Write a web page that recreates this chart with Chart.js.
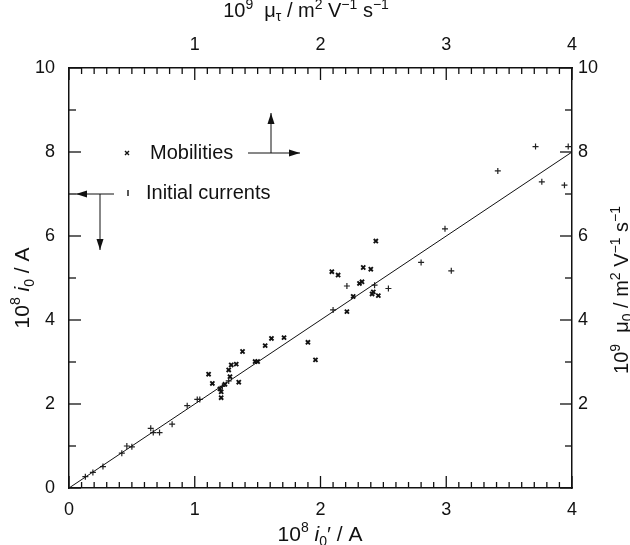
<!DOCTYPE html>
<html>
<head>
<meta charset="utf-8">
<script src="https://cdn.jsdelivr.net/npm/chart.js@4.4.1/dist/chart.umd.min.js"></script>
<style>
  html, body { margin: 0; padding: 0; background: #fff; }
  #wrap { width: 630px; height: 545px; }
</style>
</head>
<body>
<div id="wrap"><canvas id="c" width="630" height="545"></canvas></div>
<script>
// --- DATA ---
// initial currents: 10^8 i0' (bottom) vs 10^8 i0 (left)
const currentsX = [0.13, 0.19, 0.27, 0.42, 0.46, 0.50, 0.65, 0.67, 0.72, 0.82, 0.94, 1.02, 1.04,
  1.22, 1.27, 2.10, 2.21, 2.43, 2.54, 2.80, 2.99, 3.04, 3.41, 3.71, 3.76, 3.94, 3.97];
const currentsY = [0.27, 0.37, 0.51, 0.83, 1.00, 0.98, 1.42, 1.32, 1.32, 1.52, 1.96, 2.11, 2.11,
  2.42, 2.55, 4.24, 4.81, 4.83, 4.75, 5.37, 6.17, 5.17, 7.55, 8.13, 7.29, 7.21, 8.13];
// mobilities: 10^9 mu_tau (top) vs 10^9 mu_0 (right)
const mobilityX = [1.11, 1.14, 1.20, 1.21, 1.21, 1.24, 1.27, 1.28, 1.29, 1.33, 1.35, 1.38, 1.48, 1.50,
  1.56, 1.61, 1.71, 1.90, 1.96, 2.09, 2.14, 2.21, 2.26, 2.31, 2.33, 2.34, 2.40, 2.41, 2.42, 2.44, 2.46];
const mobilityY = [2.71, 2.49, 2.36, 2.29, 2.15, 2.47, 2.81, 2.65, 2.93, 2.95, 2.52, 3.25, 3.01, 3.01,
  3.39, 3.56, 3.58, 3.47, 3.05, 5.15, 5.07, 4.20, 4.56, 4.87, 4.91, 5.25, 5.21, 4.62, 4.67, 5.88, 4.58];
// fitted line
const fitX = [0, 4];
const fitY = [0, 8];

// tick labels
const bottomLabels = [0, 1, 2, 3, 4];
const topLabels = [1, 2, 3, 4];
const leftLabels = [0, 2, 4, 6, 8, 10];
const rightLabels = [2, 4, 6, 8, 10];

const FONT = '"Liberation Sans", Arial, Helvetica, sans-serif';
const INK = '#111';

function pts(xs, ys) {
  return xs.map((x, i) => ({ x: x, y: ys[i] }));
}

function labelIn(list) {
  return (v) => {
    const r = Math.round(v);
    return Math.abs(v - r) < 1e-6 && list.includes(r) ? String(r) : '';
  };
}

// rich text: parts = [[text, kind]] kind: n | i | sup | sub
function drawRich(ctx, parts, cx, cy, size, rot) {
  const fontFor = (k) => {
    const s = (k === 'sup' || k === 'sub') ? Math.round(size * 0.68) : size;
    return (k === 'i' ? 'italic ' : '') + s + 'px ' + FONT;
  };
  let total = 0;
  parts.forEach(([t, k]) => { ctx.font = fontFor(k); total += ctx.measureText(t).width; });
  ctx.save();
  ctx.translate(cx, cy);
  if (rot) ctx.rotate(rot);
  ctx.fillStyle = INK;
  ctx.textBaseline = 'alphabetic';
  ctx.textAlign = 'left';
  let x = -total / 2;
  parts.forEach(([t, k]) => {
    ctx.font = fontFor(k);
    let dy = 0;
    if (k === 'sup') dy = -size * 0.42;
    if (k === 'sub') dy = size * 0.22;
    ctx.fillText(t, x, dy);
    x += ctx.measureText(t).width;
  });
  ctx.restore();
}

function arrow(ctx, x1, y1, x2, y2) {
  ctx.beginPath();
  ctx.moveTo(x1, y1);
  ctx.lineTo(x2, y2);
  ctx.stroke();
  const a = Math.atan2(y2 - y1, x2 - x1);
  const L = 11, W = 3.5;
  ctx.beginPath();
  ctx.moveTo(x2, y2);
  ctx.lineTo(x2 - L * Math.cos(a) + W * Math.sin(a), y2 - L * Math.sin(a) - W * Math.cos(a));
  ctx.lineTo(x2 - L * Math.cos(a) - W * Math.sin(a), y2 - L * Math.sin(a) + W * Math.cos(a));
  ctx.closePath();
  ctx.fill();
}

// inward tick marks on all four sides
const inwardTicks = {
  id: 'inwardTicks',
  afterDraw(chart) {
    const ctx = chart.ctx;
    const a = chart.chartArea;
    ctx.save();
    ctx.strokeStyle = INK;
    ctx.lineWidth = 1.3;
    const s = chart.scales;
    const isInt = (v) => Math.abs(v - Math.round(v)) < 1e-6;
    s.x.ticks.forEach((t) => {
      const p = s.x.getPixelForValue(t.value);
      const len = isInt(t.value) ? 12 : 6;
      ctx.beginPath(); ctx.moveTo(p, a.bottom); ctx.lineTo(p, a.bottom - len); ctx.stroke();
    });
    s.x2.ticks.forEach((t) => {
      const p = s.x2.getPixelForValue(t.value);
      const len = isInt(t.value) ? 12 : 6;
      ctx.beginPath(); ctx.moveTo(p, a.top); ctx.lineTo(p, a.top + len); ctx.stroke();
    });
    s.y.ticks.forEach((t) => {
      const p = s.y.getPixelForValue(t.value);
      const len = Math.round(t.value) % 2 === 0 ? 12 : 7;
      ctx.beginPath(); ctx.moveTo(a.left, p); ctx.lineTo(a.left + len, p); ctx.stroke();
    });
    s.y2.ticks.forEach((t) => {
      const p = s.y2.getPixelForValue(t.value);
      const len = Math.round(t.value) % 2 === 0 ? 12 : 7;
      ctx.beginPath(); ctx.moveTo(a.right, p); ctx.lineTo(a.right - len, p); ctx.stroke();
    });
    ctx.restore();
  }
};

// legend, arrows and axis titles
const annotations = {
  id: 'annotations',
  afterDraw(chart) {
    const ctx = chart.ctx;
    ctx.save();
    ctx.strokeStyle = INK;
    ctx.fillStyle = INK;

    // legend markers
    ctx.lineWidth = 1.4;
    ctx.beginPath();
    ctx.moveTo(125, 151); ctx.lineTo(129, 155);
    ctx.moveTo(129, 151); ctx.lineTo(125, 155);
    ctx.stroke();
    ctx.beginPath();
    ctx.moveTo(128, 190); ctx.lineTo(128, 196);
    ctx.stroke();

    ctx.font = '20px ' + FONT;
    ctx.textBaseline = 'middle';
    ctx.fillText('Mobilities', 150, 153);
    ctx.fillText('Initial currents', 146, 193);

    // arrows
    ctx.lineWidth = 1;
    arrow(ctx, 248, 153, 300, 153);
    arrow(ctx, 271, 153, 271, 113);
    arrow(ctx, 114, 194, 76, 194);
    arrow(ctx, 100, 194, 100, 250);

    // axis titles
    drawRich(ctx, [['10', 'n'], ['8', 'sup'], [' ', 'n'], ['i', 'i'], ['0', 'sub'], ['′ / A', 'n']],
      320, 541, 21, 0);
    drawRich(ctx, [['10', 'n'], ['8', 'sup'], [' ', 'n'], ['i', 'i'], ['0', 'sub'], [' / A', 'n']],
      29, 288, 21, -Math.PI / 2);
    drawRich(ctx, [['10', 'n'], ['9', 'sup'], ['  μ', 'n'], ['τ', 'sub'], [' / m', 'n'], ['2', 'sup'],
      [' V', 'n'], ['−1', 'sup'], [' s', 'n'], ['−1', 'sup']], 306, 17, 20, 0);
    drawRich(ctx, [['10', 'n'], ['9', 'sup'], ['  μ', 'n'], ['0', 'sub'], [' / m', 'n'], ['2', 'sup'],
      [' V', 'n'], ['−1', 'sup'], [' s', 'n'], ['−1', 'sup']], 628, 290, 20, -Math.PI / 2);
    ctx.restore();
  }
};

const tickFont = { family: FONT, size: 18 };
const border = { display: true, color: INK, width: 1.5 };
const noGrid = { display: false, drawTicks: false };

new Chart(document.getElementById('c'), {
  data: {
    datasets: [
      {
        type: 'line',
        label: 'fit',
        data: pts(fitX, fitY),
        borderColor: INK,
        borderWidth: 1,
        pointRadius: 0,
        xAxisID: 'x',
        yAxisID: 'y',
      },
      {
        type: 'scatter',
        label: 'Initial currents',
        data: pts(currentsX, currentsY),
        pointStyle: 'cross',
        pointRadius: 3,
        borderColor: '#222',
        borderWidth: 1.2,
        xAxisID: 'x',
        yAxisID: 'y',
      },
      {
        type: 'scatter',
        label: 'Mobilities',
        data: pts(mobilityX, mobilityY),
        pointStyle: 'crossRot',
        pointRadius: 2.9,
        borderColor: '#111',
        borderWidth: 1.9,
        xAxisID: 'x2',
        yAxisID: 'y2',
      },
    ],
  },
  options: {
    responsive: false,
    animation: false,
    layout: { padding: 0 },
    plugins: { legend: { display: false }, tooltip: { enabled: false } },
    scales: {
      x: {
        type: 'linear', position: 'bottom', min: 0, max: 4,
        grid: noGrid, border: border,
        ticks: { stepSize: 0.1, autoSkip: false, maxRotation: 0, padding: 11, color: INK, font: tickFont,
          callback: labelIn(bottomLabels) },
        afterFit: (s) => { s.height = 57; },
      },
      x2: {
        type: 'linear', position: 'top', min: 0, max: 4,
        grid: noGrid, border: border,
        ticks: { stepSize: 0.1, autoSkip: false, maxRotation: 0, padding: 12, color: INK, font: tickFont,
          callback: labelIn(topLabels) },
        afterFit: (s) => { s.height = 68; },
      },
      y: {
        type: 'linear', position: 'left', min: 0, max: 10,
        grid: noGrid, border: border,
        ticks: { stepSize: 1, autoSkip: false, padding: 14, color: INK, font: tickFont,
          callback: labelIn(leftLabels) },
        afterFit: (s) => { s.width = 69; },
      },
      y2: {
        type: 'linear', position: 'right', min: 0, max: 10,
        grid: noGrid, border: border,
        ticks: { stepSize: 1, autoSkip: false, padding: 6, color: INK, font: tickFont,
          callback: labelIn(rightLabels) },
        afterFit: (s) => { s.width = 58; },
      },
    },
  },
  plugins: [inwardTicks, annotations],
});
</script>
</body>
</html>
